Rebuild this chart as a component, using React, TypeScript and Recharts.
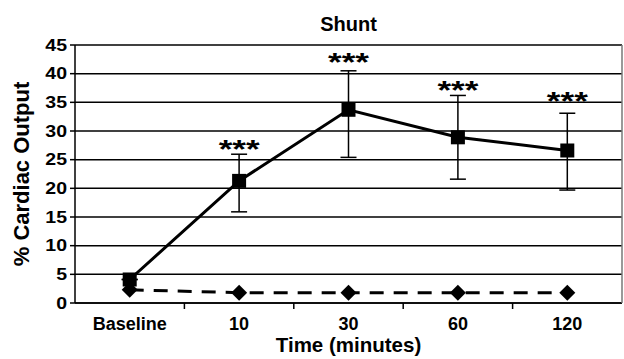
import { LineChart, Line, XAxis, YAxis, CartesianGrid, ErrorBar, LabelList } from 'recharts';

const categories = ['Baseline', '10', '30', '60', '120'];
const shunt = [4.1, 21.3, 33.7, 28.9, 26.6];
const shuntErrLow = [0, 5.4, 8.3, 7.3, 6.9];
const shuntErrHigh = [0, 4.65, 6.8, 7.3, 6.5];
const control = [2.3, 1.8, 1.8, 1.8, 1.8];
// vertical centre of the "***" marks, in axis units
const starLevel = [null, 27.9, 43.1, 38.2, 36.3];
const yTicks = [0, 5, 10, 15, 20, 25, 30, 35, 40, 45];

const FONT = '"Liberation Sans", Arial, sans-serif';

const data = categories.map((c, i) => ({
  time: c,
  shunt: shunt[i],
  err: [shuntErrLow[i], shuntErrHigh[i]],
  control: control[i],
  stars: starLevel[i],
}));

function SquareDot(props: any) {
  const { cx, cy } = props;
  if (cx == null || cy == null) return null;
  return <rect x={cx - 7} y={cy - 7} width={14} height={14} fill="#000" />;
}

function DiamondDot(props: any) {
  const { cx, cy } = props;
  if (cx == null || cy == null) return null;
  const r = 8;
  return <polygon points={`${cx},${cy - r} ${cx + r},${cy} ${cx},${cy + r} ${cx - r},${cy}`} fill="#000" />;
}

// the scanned figure has wide, flat asterisks
function StarLabel(props: any) {
  const { x, y, value } = props;
  if (value == null) return null;
  return (
    <text
      transform={`translate(${x},${y + 15}) scale(1.35,1)`}
      textAnchor="middle"
      fontFamily={FONT}
      fontWeight="bold"
      fontSize={26}
      fill="#000"
    >
      ***
    </text>
  );
}

function CountTick(props: any) {
  const { x, y, payload } = props;
  return (
    <text
      transform={`translate(${x},${y}) scale(1.22,1)`}
      dy="0.36em"
      textAnchor="end"
      fontFamily={FONT}
      fontWeight="bold"
      fontSize={16}
      fill="#000"
    >
      {payload.value}
    </text>
  );
}

function TimeTick(props: any) {
  const { x, y, payload, index } = props;
  const half = payload?.offset ?? 0;
  return (
    <g>
      {index < categories.length - 1 && (
        <line x1={x + half} y1={y} x2={x + half} y2={y + 6} stroke="#000" strokeWidth={1.5} />
      )}
      <text x={x} y={y + 27} textAnchor="middle" fontFamily={FONT} fontWeight="bold" fontSize={18} fill="#000">
        {payload.value}
      </text>
    </g>
  );
}

export default function App() {
  return (
    <div style={{ position: 'absolute', left: 0, top: 0, width: 624, height: 359, background: '#fff' }}>
      <div
        style={{
          position: 'absolute',
          left: 75,
          width: 547,
          top: 12,
          textAlign: 'center',
          fontFamily: FONT,
          fontWeight: 'bold',
          fontSize: 20,
          lineHeight: '24px',
        }}
      >
        Shunt
      </div>
      <LineChart width={624} height={359} data={data} margin={{ top: 45, right: 0, left: 0, bottom: 0 }}>
        <CartesianGrid vertical={false} stroke="#000" strokeWidth={1.5} />
        <XAxis
          dataKey="time"
          scale="band"
          height={56}
          axisLine={{ stroke: '#000', strokeWidth: 1.5 }}
          tickLine={false}
          tickSize={0}
          tickMargin={0}
          tick={<TimeTick />}
          interval={0}
          label={{
            value: 'Time (minutes)',
            position: 'insideBottom',
            offset: 7,
            fill: '#000',
            fontFamily: FONT,
            fontWeight: 'bold',
            fontSize: 20.5,
          }}
        />
        <YAxis
          domain={[0, 45]}
          ticks={yTicks}
          interval={0}
          width={75}
          axisLine={{ stroke: '#000', strokeWidth: 1.5 }}
          tickLine={{ stroke: '#000', strokeWidth: 1.5 }}
          tickSize={5}
          tickMargin={3}
          tick={<CountTick />}
          label={{
            value: '% Cardiac Output',
            angle: -90,
            position: 'insideLeft',
            offset: 21,
            style: { textAnchor: 'middle' },
            fill: '#000',
            fontFamily: FONT,
            fontWeight: 'bold',
            fontSize: 22,
          }}
        />
        <YAxis
          yAxisId="frame"
          orientation="right"
          width={2}
          domain={[0, 45]}
          tick={false}
          tickLine={false}
          axisLine={{ stroke: '#777', strokeWidth: 1.5 }}
        />
        <Line
          dataKey="control"
          stroke="#000"
          strokeWidth={3}
          strokeDasharray="14 10"
          dot={<DiamondDot />}
          activeDot={false}
          isAnimationActive={false}
        />
        <Line
          dataKey="shunt"
          stroke="#000"
          strokeWidth={3}
          dot={<SquareDot />}
          activeDot={false}
          isAnimationActive={false}
        >
          <ErrorBar dataKey="err" direction="y" width={8} stroke="#000" strokeWidth={1.5} />
        </Line>
        <Line
          dataKey="stars"
          stroke="none"
          dot={false}
          activeDot={false}
          legendType="none"
          isAnimationActive={false}
        >
          <LabelList dataKey="stars" content={<StarLabel />} />
        </Line>
      </LineChart>
    </div>
  );
}
